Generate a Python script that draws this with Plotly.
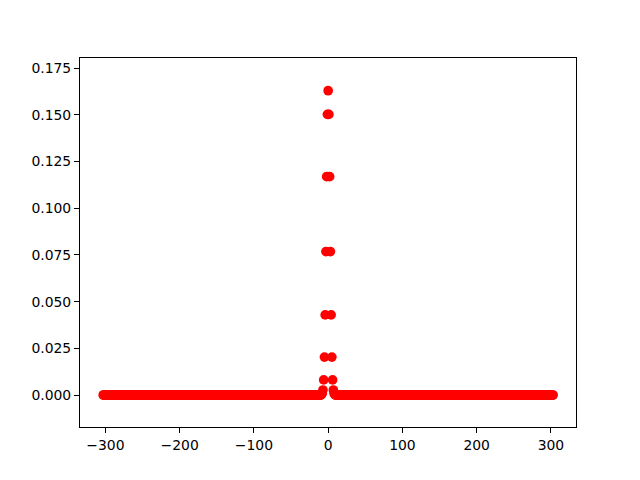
import plotly.graph_objects as go

# x positions: integers from -303 to 303
x_min, x_max = -303, 303
x_vals = list(range(x_min, x_max + 1))

# values (x = -9 .. 9)
center_x = [-9, -8, -7, -6, -5, -4, -3, -2, -1, 0, 1, 2, 3, 4, 5, 6, 7, 8, 9]
center_y = [0.0002, 0.0008, 0.0027, 0.0081, 0.0203, 0.0429, 0.0768, 0.1169, 0.1502,
            0.1629,
            0.1502, 0.1169, 0.0768, 0.0429, 0.0203, 0.0081, 0.0027, 0.0008, 0.0002]
# everywhere else the points sit on 0.0
lookup = dict(zip(center_x, center_y))
y_vals = [lookup.get(x, 0.0) for x in x_vals]

x_ticks = [-300, -200, -100, 0, 100, 200, 300]
x_ticktext = ["\u2212300", "\u2212200", "\u2212100", "0", "100", "200", "300"]
y_ticks = [0.0, 0.025, 0.05, 0.075, 0.1, 0.125, 0.15, 0.175]
y_ticktext = ["0.000", "0.025", "0.050", "0.075", "0.100", "0.125", "0.150", "0.175"]

fig = go.Figure()
fig.add_trace(go.Scatter(
    x=x_vals, y=y_vals, mode="markers",
    marker=dict(color="#ff0000", size=9.7, line=dict(width=0)),
    showlegend=False, hoverinfo="x+y",
))

axis_common = dict(
    showgrid=False, zeroline=False, showline=True, mirror=True,
    linecolor="black", linewidth=1, ticks="outside", ticklen=5,
    tickwidth=1, tickcolor="black",
    tickfont=dict(family="DejaVu Sans", size=13.9, color="black"),
)

fig.update_layout(
    width=640, height=480,
    margin=dict(l=72, r=72, t=50, b=61, pad=0),
    paper_bgcolor="white", plot_bgcolor="white",
    xaxis=dict(range=[-334.2, 333.8], tickvals=x_ticks, ticktext=x_ticktext, **axis_common),
    yaxis=dict(range=[-0.0171, 0.1804], tickvals=y_ticks, ticktext=y_ticktext, **axis_common),
)

fig.write_html("out.html")
